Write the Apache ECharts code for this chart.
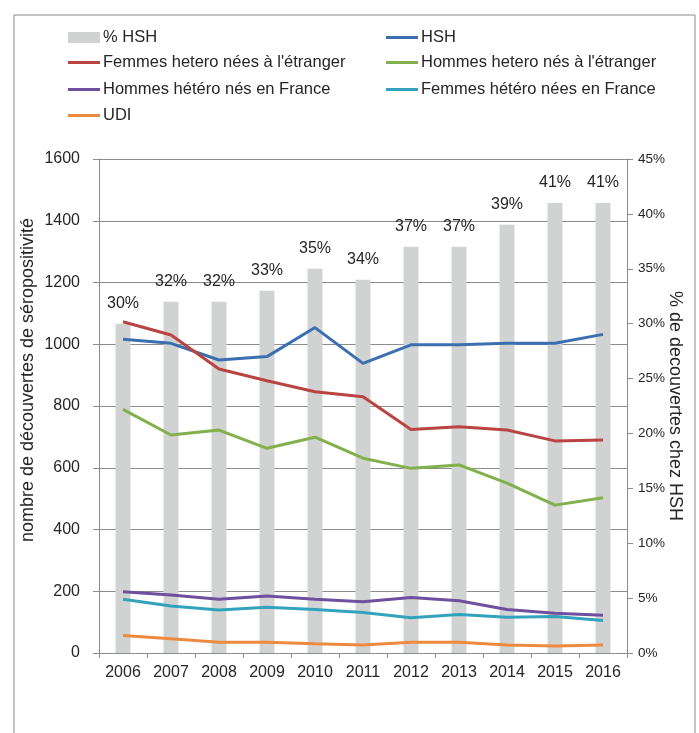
<!DOCTYPE html>
<html>
<head>
<meta charset="utf-8">
<script src="https://cdn.jsdelivr.net/npm/echarts@6/dist/echarts.min.js"></script>
<style>
html,body{margin:0;padding:0;background:#fff;}
#chart{width:699px;height:733px;}
</style>
</head>
<body>
<div id="chart"></div>
<script>
var years = ['2006','2007','2008','2009','2010','2011','2012','2013','2014','2015','2016'];
var pctHSH = [30, 32, 32, 33, 35, 34, 37, 37, 39, 41, 41];
var hsh = [1016, 1003, 949, 960, 1054, 938, 998, 998, 1003, 1003, 1032];
var femmesEtranger = [1073, 1030, 920, 882, 846, 830, 724, 733, 722, 687, 690];
var hommesEtranger = [789, 706, 722, 663, 699, 631, 598, 609, 550, 479, 503];
var hommesFrance = [198, 188, 174, 185, 174, 166, 180, 169, 141, 129, 122];
var femmesFrance = [174, 152, 139, 148, 141, 131, 114, 125, 116, 118, 105];
var udi = [57, 46, 35, 35, 30, 26, 35, 35, 26, 23, 26];
var leftTicks = {min: 0, max: 1600, interval: 200};
var rightTicks = {min: 0, max: 45, interval: 5};

var FONT = '"Liberation Sans", Arial, sans-serif';
var TXT = '#262626';
var GRID = '#8c8c8c';

var names = {
  bar: '% HSH',
  hsh: 'HSH',
  fe: "Femmes hetero nées à l'étranger",
  he: "Hommes hetero nés à l'étranger",
  hf: 'Hommes hétéro nés en France',
  ff: 'Femmes hétéro nées en France',
  udi: 'UDI'
};
var colors = {
  hsh: '#3b6fb0',
  fe: '#b94441',
  he: '#82b04c',
  hf: '#6f509f',
  ff: '#33a3bd',
  udi: '#ec8a3f'
};

function leg(name, left, top, isBar) {
  return {
    data: [name],
    left: left, top: top,
    padding: 0,
    itemWidth: 32,
    itemHeight: isBar ? 11 : 3,
    itemGap: 0,
    icon: 'rect',
    selectedMode: false,
    textStyle: {fontFamily: FONT, fontSize: 16.5, color: TXT, padding: [0,0,0,-2]}
  };
}

function line(key, data) {
  return {
    name: names[key], type: 'line', data: data, yAxisIndex: 0,
    symbol: 'none', lineStyle: {width: 3, color: colors[key]},
    itemStyle: {color: colors[key]}, z: 3
  };
}

var chart = echarts.init(document.getElementById('chart'), null, {renderer: 'canvas'});
chart.setOption({
  animation: false,
  backgroundColor: '#fff',
  graphic: [{
    type: 'rect', left: 11.5, top: 12.5, z: -1,
    shape: {width: 681, height: 740},
    style: {fill: 'none', stroke: '#8a8a8a', lineWidth: 1}
  }],
  legend: [
    leg(names.bar, 68, 29, true),
    leg(names.hsh, 386, 29, false),
    leg(names.fe, 68, 54, false),
    leg(names.he, 386, 54, false),
    leg(names.hf, 68, 81, false),
    leg(names.ff, 386, 81, false),
    leg(names.udi, 68, 107, false)
  ],
  grid: {left: 99, right: 72, top: 159, bottom: 80, containLabel: false},
  xAxis: {
    type: 'category', data: years, boundaryGap: true,
    axisLine: {show: true, lineStyle: {color: GRID, width: 1}},
    axisTick: {show: true, length: 5, lineStyle: {color: GRID}},
    axisLabel: {fontFamily: FONT, fontSize: 16, color: TXT, margin: 12}
  },
  yAxis: [{
    type: 'value', position: 'left',
    min: leftTicks.min, max: leftTicks.max, interval: leftTicks.interval,
    name: 'nombre de découvertes de séropositivité',
    nameLocation: 'middle', nameRotate: 90, nameGap: 62, nameMoveOverlap: false,
    nameTextStyle: {fontFamily: FONT, fontSize: 18, color: TXT, padding: [0,0,0,52]},
    axisLine: {show: true, lineStyle: {color: GRID}},
    axisTick: {show: true, length: 6, lineStyle: {color: GRID}},
    axisLabel: {fontFamily: FONT, fontSize: 16, color: TXT, margin: 19,
      formatter: function (v) { return String(v); }},
    splitLine: {show: true, lineStyle: {color: GRID, width: 1}}
  }, {
    type: 'value', position: 'right',
    min: rightTicks.min, max: rightTicks.max, interval: rightTicks.interval,
    name: '% de decouvertes chez HSH',
    nameLocation: 'middle', nameRotate: -90, nameGap: 39, nameMoveOverlap: false,
    nameTextStyle: {fontFamily: FONT, fontSize: 18, color: TXT},
    axisLine: {show: true, lineStyle: {color: GRID}},
    axisTick: {show: true, length: 6, lineStyle: {color: GRID}},
    axisLabel: {fontFamily: FONT, fontSize: 13.5, color: TXT, margin: 11, formatter: '{value}%'},
    splitLine: {show: false}
  }],
  series: [{
    name: names.bar, type: 'bar', data: pctHSH, yAxisIndex: 1,
    barWidth: 15, itemStyle: {color: '#d1d3d2'}, z: 2,
    label: {show: true, position: 'top', distance: 12, formatter: '{c}%',
      fontFamily: FONT, fontSize: 16, color: TXT}
  },
    line('hsh', hsh),
    line('fe', femmesEtranger),
    line('he', hommesEtranger),
    line('hf', hommesFrance),
    line('ff', femmesFrance),
    line('udi', udi)
  ]
});
</script>
</body>
</html>
